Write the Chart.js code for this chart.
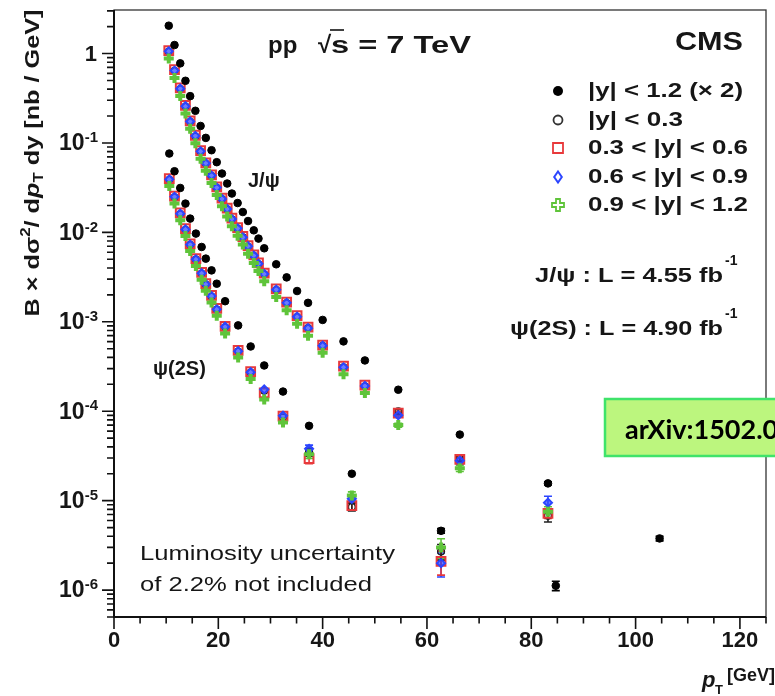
<!DOCTYPE html>
<html>
<head>
<meta charset="utf-8">
<script src="https://cdn.jsdelivr.net/npm/chart.js@4.4.0/dist/chart.umd.min.js"></script>
<style>
  body { margin: 0; background: #fff; }
  canvas { display: block; }
</style>
</head>
<body>
<canvas id="xsecChart" width="775" height="696"></canvas>
<script>
// pT bin positions [GeV]
const jpsiPt = [10.5, 11.6, 12.7, 13.7, 14.6, 15.6, 16.6, 17.6, 18.7, 19.7, 20.7, 21.7, 22.6, 23.7, 24.7, 25.7, 26.8, 27.7, 28.8, 31.1, 33.1, 35.1, 37.2, 40.0, 44.0, 48.1, 54.5, 66.3, 83.2, 104.6];
const psiPt = [10.6, 11.6, 12.7, 13.7, 14.6, 15.7, 16.8, 17.6, 18.7, 19.7, 21.3, 23.8, 26.2, 28.8, 32.4, 37.4, 45.6, 62.7, 84.7];

// J/psi, B x d2sigma/dpT dy [nb/GeV]
const jpsiAll = [2.05, 1.245, 0.777, 0.496, 0.334, 0.229, 0.155, 0.114, 0.083, 0.061, 0.0455, 0.0352, 0.0272, 0.0213, 0.0169, 0.0134, 0.01055, 0.00853, 0.00664, 0.0044, 0.00314, 0.00221, 0.00163, 0.00105, 0.000604, 0.00037, 0.000174, 5.48e-5, 1.56e-5, 3.78e-6];
const jpsiY03 = [1.05, 0.64, 0.40, 0.255, 0.172, 0.118, 0.080, 0.0585, 0.0428, 0.0314, 0.0235, 0.0181, 0.0140, 0.0110, 0.0088, 0.0069, 0.00545, 0.0044, 0.0034, 0.00227, 0.00162, 0.00113, 0.00085, 0.00054, 0.00031, 0.00019, 1.0e-4, 3.0e-5, 6.8e-6];
const jpsiY06 = [1.08, 0.66, 0.413, 0.263, 0.177, 0.122, 0.082, 0.060, 0.044, 0.0323, 0.0242, 0.0187, 0.0144, 0.0113, 0.0090, 0.0071, 0.0056, 0.00456, 0.0035, 0.00233, 0.00166, 0.00117, 0.00087, 0.00055, 0.00032, 0.000196, 9.5e-5, 2.9e-5, 7.2e-6];
const jpsiY09 = [1.06, 0.645, 0.405, 0.258, 0.174, 0.120, 0.0806, 0.0593, 0.0432, 0.0317, 0.0237, 0.0183, 0.0141, 0.0111, 0.0088, 0.0070, 0.0055, 0.00447, 0.00343, 0.00229, 0.00163, 0.00114, 0.00085, 0.00054, 0.00031, 0.000192, 9.0e-5, 2.8e-5, 9.5e-6];
const jpsiY12 = [0.88, 0.533, 0.335, 0.213, 0.144, 0.099, 0.0667, 0.049, 0.0357, 0.0262, 0.0196, 0.0151, 0.0117, 0.0092, 0.0073, 0.00576, 0.00456, 0.0037, 0.00284, 0.00189, 0.00135, 0.00095, 0.00070, 0.00045, 0.00026, 0.00016, 7.0e-5, 2.3e-5, 7.5e-6];

// psi(2S)
const psiAll = [0.0762, 0.0483, 0.0314, 0.021, 0.01427, 0.0097, 0.00687, 0.00509, 0.00376, 0.00267, 0.0017, 0.000912, 0.00053, 0.000325, 0.000166, 6.87e-5, 2.0e-5, 4.6e-6, 1.12e-6];
const psiY03 = [0.0388, 0.0247, 0.016, 0.0107, 0.00725, 0.00495, 0.00347, 0.0026, 0.00192, 0.00137, 0.00087, 0.000465, 0.00027, 0.00017, 8.5e-5, 3.5e-5, 8.5e-6, 2.7e-6];
const psiY06 = [0.0399, 0.0254, 0.0165, 0.011, 0.00745, 0.0051, 0.00357, 0.00268, 0.00197, 0.00141, 0.00089, 0.00048, 0.000278, 0.00016, 8.8e-5, 2.95e-5, 8.8e-6, 2.1e-6];
const psiY09 = [0.0392, 0.025, 0.0162, 0.0108, 0.0073, 0.0050, 0.0035, 0.00263, 0.00194, 0.00138, 0.00088, 0.00047, 0.000273, 0.000175, 8.9e-5, 3.8e-5, 1.05e-5, 2.0e-6];
const psiY12 = [0.0331, 0.021, 0.0137, 0.0091, 0.0062, 0.0042, 0.00296, 0.00222, 0.00164, 0.00117, 0.00074, 0.0004, 0.00023, 0.000135, 7.5e-5, 3.3e-5, 1.14e-5, 3.0e-6];

// relative errors of the last points of each series (only the visible ones)
const jpsiAllErr = [0.04, 0.06];
const jpsiY03Err = [0.05, 0.08, 0.15];
const jpsiY06Err = [0.05, 0.08, 0.12];
const jpsiY09Err = [0.05, 0.08, 0.18];
const jpsiY12Err = [0.05, 0.08, 0.14];
const psiAllErr = [0.06, 0.12];
const psiY03Err = [0.10, 0.10, 0.20];
const psiY06Err = [0.12, 0.10, 0.30];
const psiY09Err = [0.10, 0.10, 0.30];
const psiY12Err = [0.10, 0.10, 0.25];

// axis ticks
const xMajorTicks = [0, 20, 40, 60, 80, 100, 120];
const yDecades = [0, -1, -2, -3, -4, -5, -6];

const legendLabels = ['|y| < 1.2 (\u00d7 2)', '|y| < 0.3', '0.3 < |y| < 0.6', '0.6 < |y| < 0.9', '0.9 < |y| < 1.2'];

const FONT = '"Liberation Sans", Arial, sans-serif';
const INK = '#161616';
const RED = '#e8393b';
const BLUE = '#2b45ff';
const GREEN = '#5fc43a';

function pts(xs, ys) {
    return ys.map((v, i) => ({ x: xs[i], y: v }));
}

function black(xs, ys, errs) {
    return { data: pts(xs, ys), errs: errs, pointStyle: 'circle', pointRadius: 3.8, backgroundColor: '#000', borderColor: '#000', borderWidth: 1 };
}
function openCircle(xs, ys, errs) {
    return { data: pts(xs, ys), errs: errs, pointStyle: 'circle', pointRadius: 3.4, backgroundColor: 'rgba(0,0,0,0)', borderColor: '#222', borderWidth: 1.4 };
}
function redSquare(xs, ys, errs) {
    return { data: pts(xs, ys), errs: errs, pointStyle: 'rect', pointRadius: 6.2, backgroundColor: 'rgba(0,0,0,0)', borderColor: RED, borderWidth: 2 };
}
function blueDiamond(xs, ys, errs) {
    return { data: pts(xs, ys), errs: errs, pointStyle: 'rectRot', pointRadius: 4, backgroundColor: 'rgba(43,69,255,0.7)', borderColor: BLUE, borderWidth: 2 };
}
function greenCross(xs, ys, errs) {
    return { data: pts(xs, ys), errs: errs, pointStyle: 'cross', pointRadius: 5, backgroundColor: GREEN, borderColor: GREEN, borderWidth: 4 };
}

// draws text squeezed/stretched to a given width
function fitText(ctx, text, x, y, w) {
    const m = ctx.measureText(text).width;
    ctx.save();
    ctx.translate(x, y);
    ctx.scale(w / m, 1);
    ctx.fillText(text, 0, 0);
    ctx.restore();
}

// draws a row of text runs [{t, font, dy}] starting at x
function drawRuns(ctx, runs, x, y) {
    let cx = x;
    runs.forEach(r => {
        ctx.font = r.font;
        ctx.fillText(r.t, cx, y + (r.dy || 0));
        cx += ctx.measureText(r.t).width;
    });
    return cx - x;
}
function runsWidth(ctx, runs) {
    let w = 0;
    runs.forEach(r => { ctx.font = r.font; w += ctx.measureText(r.t).width; });
    return w;
}

function drawMarker(ctx, kind, x, y) {
    ctx.save();
    ctx.beginPath();
    if (kind === 0) {
        ctx.fillStyle = '#000';
        ctx.arc(x, y, 5, 0, Math.PI * 2);
        ctx.fill();
    } else if (kind === 1) {
        ctx.strokeStyle = '#333';
        ctx.lineWidth = 1.8;
        ctx.arc(x, y, 4.5, 0, Math.PI * 2);
        ctx.stroke();
    } else if (kind === 2) {
        ctx.strokeStyle = RED;
        ctx.lineWidth = 1.8;
        ctx.rect(x - 5, y - 5, 10, 10);
        ctx.stroke();
    } else if (kind === 3) {
        ctx.strokeStyle = BLUE;
        ctx.lineWidth = 2;
        ctx.moveTo(x, y - 5.5); ctx.lineTo(x + 3.8, y); ctx.lineTo(x, y + 5.5); ctx.lineTo(x - 3.8, y); ctx.closePath();
        ctx.stroke();
    } else {
        ctx.strokeStyle = GREEN;
        ctx.lineWidth = 1.8;
        const a = 2, b = 6;
        ctx.moveTo(x - a, y - b); ctx.lineTo(x + a, y - b); ctx.lineTo(x + a, y - a); ctx.lineTo(x + b, y - a);
        ctx.lineTo(x + b, y + a); ctx.lineTo(x + a, y + a); ctx.lineTo(x + a, y + b); ctx.lineTo(x - a, y + b);
        ctx.lineTo(x - a, y + a); ctx.lineTo(x - b, y + a); ctx.lineTo(x - b, y - a); ctx.lineTo(x - a, y - a);
        ctx.closePath();
        ctx.stroke();
    }
    ctx.restore();
}

// vertical error bars, drawn below the markers
const errorBars = {
    id: 'errorBars',
    beforeDatasetsDraw(chart) {
        const ctx = chart.ctx;
        const xs = chart.scales.x, ys = chart.scales.y;
        chart.data.datasets.forEach(ds => {
            if (!ds.errs) return;
            const n = ds.data.length, k = ds.errs.length;
            ctx.save();
            ctx.strokeStyle = ds.borderColor;
            ctx.lineWidth = 1.6;
            for (let j = 0; j < k; j++) {
                const p = ds.data[n - k + j];
                const e = ds.errs[j];
                const px = xs.getPixelForValue(p.x);
                const y1 = ys.getPixelForValue(p.y * (1 + e));
                const y2 = ys.getPixelForValue(p.y * (1 - e));
                ctx.beginPath();
                ctx.moveTo(px, y1); ctx.lineTo(px, y2);
                ctx.moveTo(px - 4, y1); ctx.lineTo(px + 4, y1);
                ctx.moveTo(px - 4, y2); ctx.lineTo(px + 4, y2);
                ctx.stroke();
            }
            ctx.restore();
        });
    }
};

// frame, ticks, labels and all the annotations
const decorations = {
    id: 'decorations',
    afterDraw(chart) {
        const ctx = chart.ctx;
        const a = chart.chartArea;
        const xs = chart.scales.x, ys = chart.scales.y;
        ctx.save();

        // frame
        ctx.strokeStyle = '#333';
        ctx.lineWidth = 1.3;
        ctx.strokeRect(a.left, a.top, a.right - a.left, a.bottom - a.top);
        ctx.strokeStyle = '#111';
        ctx.lineWidth = 2;
        ctx.beginPath();
        ctx.moveTo(a.left, a.top); ctx.lineTo(a.left, a.bottom); ctx.lineTo(a.right, a.bottom);
        ctx.stroke();

        // x ticks
        ctx.lineWidth = 1.6;
        ctx.beginPath();
        for (let v = 0; v <= 125; v += 5) {
            const px = xs.getPixelForValue(v);
            const len = v % 20 === 0 ? 12 : 6.5;
            ctx.moveTo(px, a.bottom); ctx.lineTo(px, a.bottom + len);
        }
        // y ticks
        for (let e = -7; e <= 0; e++) {
            for (let m = 1; m <= 9; m++) {
                const v = m * Math.pow(10, e);
                if (v < ys.min || v > ys.max) continue;
                const py = ys.getPixelForValue(v);
                const len = m === 1 ? 12 : 7;
                ctx.moveTo(a.left, py); ctx.lineTo(a.left - len, py);
            }
        }
        ctx.stroke();

        ctx.fillStyle = INK;
        ctx.textBaseline = 'middle';

        // x labels
        ctx.font = 'bold 22px ' + FONT;
        ctx.textAlign = 'center';
        xMajorTicks.forEach(v => ctx.fillText(String(v), xs.getPixelForValue(v), a.bottom + 24));

        // y labels
        ctx.textAlign = 'left';
        yDecades.forEach(e => {
            const py = ys.getPixelForValue(Math.pow(10, e));
            if (e === 0) {
                ctx.font = 'bold 22px ' + FONT;
                ctx.textAlign = 'right';
                ctx.fillText('1', 97, py + 1);
                ctx.textAlign = 'left';
            } else {
                const runs = [
                    { t: '10', font: 'bold 23px ' + FONT, dy: 1 },
                    { t: '-' + (-e), font: 'bold 15px ' + FONT, dy: -5 }
                ];
                const w = runsWidth(ctx, runs);
                drawRuns(ctx, runs, 98 - w, py);
            }
        });

        // y title (rotated)
        ctx.save();
        ctx.translate(33, 163);
        ctx.rotate(-Math.PI / 2);
        const B = 'bold 21px ' + FONT;
        const yt = [
            { t: 'B \u00d7 d\u03c3', font: B },
            { t: '2', font: 'bold 14px ' + FONT, dy: -7 },
            { t: '/ d', font: B },
            { t: 'p', font: 'italic bold 21px ' + FONT },
            { t: 'T', font: 'bold 14px ' + FONT, dy: 6 },
            { t: ' dy [nb / GeV]', font: B }
        ];
        const ytw = runsWidth(ctx, yt);
        ctx.scale(307 / ytw, 1);
        drawRuns(ctx, yt, -ytw / 2, 0);
        ctx.restore();

        // x title
        ctx.font = 'italic bold 22px ' + FONT;
        ctx.fillText('p', 702, 681);
        ctx.font = 'bold 13px ' + FONT;
        ctx.fillText('T', 715, 690);
        ctx.font = 'bold 18px ' + FONT;
        ctx.fillText('[GeV]', 727, 676);

        // header
        ctx.font = 'bold 24px ' + FONT;
        ctx.fillText('pp', 268, 46);
        ctx.fillText('\u221a', 318, 46);
        fitText(ctx, 's = 7 TeV', 331, 46, 140);
        ctx.beginPath();
        ctx.lineWidth = 1.6;
        ctx.moveTo(330, 30); ctx.lineTo(344, 30);
        ctx.stroke();
        ctx.font = 'bold 25px ' + FONT;
        fitText(ctx, 'CMS', 675, 43, 68);

        // legend
        const rows = [91, 120, 148, 177, 205];
        ctx.font = 'bold 20px ' + FONT;
        const rowW = [155, 95, 160, 160, 160];
        legendLabels.forEach((lab, i) => {
            drawMarker(ctx, i, 558, rows[i]);
            ctx.fillStyle = INK;
            fitText(ctx, lab, 588, rows[i], rowW[i]);
        });

        // luminosities
        ctx.font = 'bold 21px ' + FONT;
        fitText(ctx, 'J/\u03c8 : L = 4.55 fb', 535, 276, 188);
        fitText(ctx, '\u03c8(2S) : L = 4.90 fb', 510, 329, 213);
        ctx.font = 'bold 14px ' + FONT;
        ctx.fillText('-1', 725, 261);
        ctx.fillText('-1', 725, 314);

        // curve labels
        ctx.font = 'bold 20px ' + FONT;
        ctx.fillText('J/\u03c8', 248, 181);
        ctx.fillText('\u03c8(2S)', 153, 369);

        // note
        ctx.font = '20px ' + FONT;
        fitText(ctx, 'Luminosity uncertainty', 140, 554, 255);
        fitText(ctx, 'of 2.2% not included', 140, 585, 232);

        // arXiv box
        ctx.fillStyle = '#bcf67e';
        ctx.strokeStyle = '#3fe36a';
        ctx.lineWidth = 2.5;
        ctx.fillRect(605, 399, 190, 57);
        ctx.strokeRect(605, 399, 190, 57);
        ctx.fillStyle = '#000';
        ctx.font = 'bold 27px Lato, "Open Sans", sans-serif';
        ctx.fillText('arXiv:1502.04155', 625, 430);

        ctx.restore();
    }
};

document.addEventListener('DOMContentLoaded', function () {
    const ctx = document.getElementById('xsecChart').getContext('2d');

    // first dataset is drawn on top
    const xsecChart = new Chart(ctx, {
        type: 'scatter',
        data: {
            datasets: [
                black(jpsiPt, jpsiAll, jpsiAllErr),
                black(psiPt, psiAll, psiAllErr),
                greenCross(jpsiPt, jpsiY12, jpsiY12Err),
                greenCross(psiPt, psiY12, psiY12Err),
                blueDiamond(jpsiPt, jpsiY09, jpsiY09Err),
                blueDiamond(psiPt, psiY09, psiY09Err),
                redSquare(jpsiPt, jpsiY06, jpsiY06Err),
                redSquare(psiPt, psiY06, psiY06Err),
                openCircle(jpsiPt, jpsiY03, jpsiY03Err),
                openCircle(psiPt, psiY03, psiY03Err)
            ]
        },
        options: {
            responsive: false,
            animation: false,
            layout: { padding: { left: 114, right: 3, top: 10, bottom: 79 } },
            scales: {
                x: { type: 'linear', display: false, min: 0, max: 125 },
                y: { type: 'logarithmic', display: false, min: 5e-7, max: 3.07 }
            },
            plugins: {
                legend: { display: false },
                tooltip: { enabled: false }
            }
        },
        plugins: [errorBars, decorations]
    });
});
</script>
</body>
</html>
